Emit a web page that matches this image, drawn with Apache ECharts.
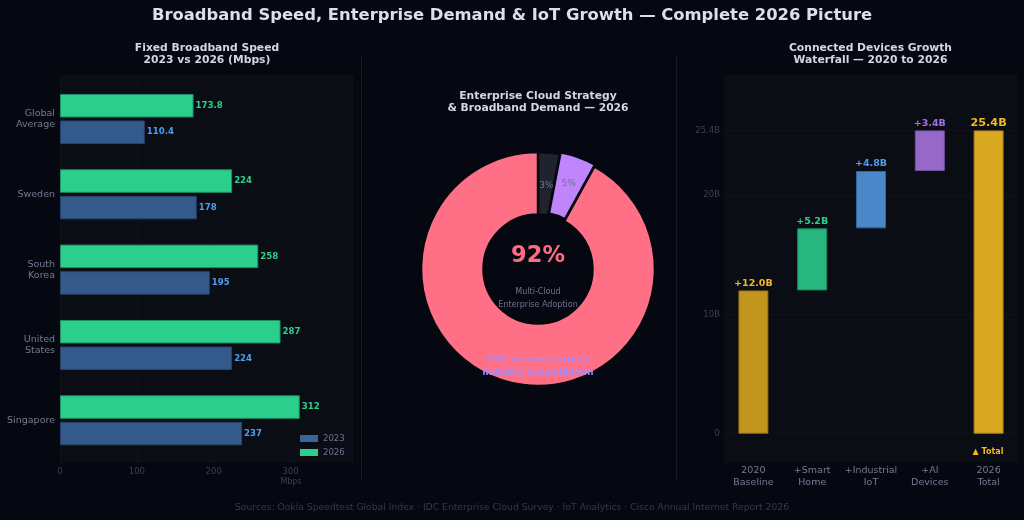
<!DOCTYPE html>
<html lang="en">
<head>
    <meta charset="UTF-8">
    <script src="https://cdn.jsdelivr.net/npm/echarts@6/dist/echarts.min.js"></script>
    <style>
        html, body { margin: 0; background: #050810; }
        #main { width: 1024px; height: 520px; }
    </style>
</head>
<body>
<div id="main"></div>
<script>
    // bottom to top, the category axis runs upwards
    const countries = ['Singapore', 'United\nStates', 'South\nKorea', 'Sweden', 'Global\nAverage'];
    const speed2023 = [237, 224, 195, 178, 110.4];
    const speed2026 = [312, 287, 258, 224, 173.8];

    const cloudNames = ['No cloud', 'Single cloud', 'Multi-cloud'];
    const cloudShares = [3, 5, 92];

    const stepNames = ['2020\nBaseline', '+Smart\nHome', '+Industrial\nIoT', '+AI\nDevices', '2026\nTotal'];
    const stepBase = [0, 12, 17.2, 22, 0];
    const stepSize = [12, 5.2, 4.8, 3.4, 25.4];
    const stepLabels = ['+12.0B', '+5.2B', '+4.8B', '+3.4B', '25.4B'];
    const deviceTicks = [0, 10, 20, 25.4];

    const font = 'DejaVu Sans';
    const stepFill = ['#c2951e', '#27b67d', '#4a86c8', '#9668c8', '#dba822'];
    const stepEdge = ['#8f6f18', '#1c8a5e', '#35639a', '#7450a0', '#a67f1a'];
    const stepText = ['#f5b81f', '#2bd08c', '#4f9cf0', '#a56ee8', '#f5b81f'];

    function heading(text, x, y, size, color, weight, lineHeight) {
        return {
            text: text, left: x, top: y, textAlign: 'center', padding: 0,
            textStyle: {
                fontFamily: font, fontSize: size, color: color,
                fontWeight: weight || 'bold', lineHeight: lineHeight || size * 1.2
            }
        };
    }

    function speedSeries(name, values, fill, edge, text) {
        return {
            name: name, type: 'bar', xAxisIndex: 1, yAxisIndex: 1,
            data: values, barWidth: 23.5, barGap: '13%',
            itemStyle: { color: fill, borderColor: edge, borderWidth: 1 },
            label: {
                show: true, position: 'right', distance: 2, color: text,
                fontFamily: font, fontSize: 8.6, fontWeight: 'bold'
            }
        };
    }

    let chart = echarts.init(document.getElementById('main'));
    chart.setOption({
        animation: false,
        backgroundColor: '#050810',
        title: [
            heading('Broadband Speed, Enterprise Demand & IoT Growth — Complete 2026 Picture', 512, 6, 16.4, '#dcdfec'),
            heading('Fixed Broadband Speed\n2023 vs 2026 (Mbps)', 207, 42.5, 10.75, '#d4d7e3', 'bold', 12),
            heading('Enterprise Cloud Strategy\n& Broadband Demand — 2026', 538, 90.5, 10.75, '#d4d7e3', 'bold', 12),
            heading('Connected Devices Growth\nWaterfall — 2020 to 2026', 870.5, 42.5, 10.75, '#d4d7e3', 'bold', 12),
            heading('92%', 538, 243, 22.5, '#ff6b81'),
            heading('Multi-Cloud\nEnterprise Adoption', 538, 286, 8, '#6f7390', 'normal', 12.4),
            heading('93% of execs expect\nindustry consolidation', 538, 354, 8.8, '#a78bfa', 'bold', 12.4),
            heading('Sources: Ookla Speedtest Global Index · IDC Enterprise Cloud Survey · IoT Analytics · Cisco Annual Internet Report 2026', 512, 502, 9.23, '#363a46', 'normal')
        ],
        legend: {
            data: [
                { name: '2023', itemStyle: { color: '#3a659c', borderWidth: 0 } },
                { name: '2026', itemStyle: { color: '#2bcf8b', borderWidth: 0 } }
            ],
            orient: 'vertical', left: 300, top: 434, padding: 0,
            icon: 'rect', itemWidth: 18, itemHeight: 7, itemGap: 5, selectedMode: false,
            textStyle: { fontFamily: font, fontSize: 8.5, color: '#6f7390' }
        },
        grid: [
            // panel with the speed gridlines, bars sit on the inner grid
            { left: 60, top: 75, width: 292, height: 388, show: true, backgroundColor: '#0a0d14', borderWidth: 0 },
            { left: 60, top: 81.3, width: 292, height: 376.7 },
            { left: 724, top: 75, width: 294, height: 388, show: true, backgroundColor: '#0a0d14', borderWidth: 0 }
        ],
        xAxis: [
            {
                type: 'value', gridIndex: 0, min: 0, max: 380, interval: 100,
                axisLine: { show: false }, axisTick: { show: false },
                axisLabel: { color: '#3c404e', fontFamily: font, fontSize: 8.5, margin: 4, showMaxLabel: false },
                splitLine: { lineStyle: { color: '#0f1219', width: 1 } }
            },
            { type: 'value', gridIndex: 1, min: 0, max: 380, show: false },
            {
                type: 'category', gridIndex: 2, data: stepNames,
                axisLine: { show: false }, axisTick: { show: false },
                axisLabel: { color: '#767b92', fontFamily: font, fontSize: 9.5, lineHeight: 12.4, margin: 1, interval: 0 }
            }
        ],
        yAxis: [
            { type: 'value', gridIndex: 0, min: 0, max: 1, show: false },
            {
                type: 'category', gridIndex: 1, data: countries,
                axisLine: { show: false }, axisTick: { show: false },
                axisLabel: { color: '#767b92', fontFamily: font, fontSize: 9.5, lineHeight: 11, margin: 5, padding: [1, 0, 0, 0] }
            },
            {
                type: 'value', gridIndex: 2, min: -2.45, max: 30.04,
                axisLine: { show: false },
                axisTick: { show: false, customValues: deviceTicks },
                axisLabel: {
                    customValues: deviceTicks, color: '#3c404e', fontFamily: font, fontSize: 8.5, margin: 4,
                    formatter: function (v) { return v === 0 ? '0' : v + 'B'; }
                },
                splitLine: { show: true, lineStyle: { color: '#0f1219', width: 1 } }
            }
        ],
        series: [
            speedSeries('2026', speed2026, '#2bcf8b', '#1f8f66', '#2bd08c'),
            speedSeries('2023', speed2023, '#345a8c', '#27436b', '#4f9cf0'),
            {
                type: 'pie', center: [538, 269], radius: [54.5, 117], startAngle: 90,
                selectedMode: 'multiple', selectedOffset: 2, silent: true,
                itemStyle: { borderColor: '#050810', borderWidth: 2.5 },
                label: { position: 'inside', formatter: '{c}%', color: '#6f7390', fontFamily: font, fontSize: 9 },
                labelLine: { show: false },
                data: [
                    { name: cloudNames[0], value: cloudShares[0], itemStyle: { color: '#20232f' }, label: { offset: [0, 5] } },
                    { name: cloudNames[1], value: cloudShares[1], selected: true, itemStyle: { color: '#c084fc' }, label: { offset: [-2, 7] } },
                    { name: cloudNames[2], value: cloudShares[2], itemStyle: { color: '#ff6f85' }, label: { show: false } }
                ]
            },
            {
                type: 'bar', xAxisIndex: 2, yAxisIndex: 2, stack: 'devices', barWidth: 30,
                data: stepBase, itemStyle: { color: 'transparent' }, silent: true
            },
            {
                type: 'bar', xAxisIndex: 2, yAxisIndex: 2, stack: 'devices', barWidth: 30,
                data: stepSize.map(function (v, i) {
                    return {
                        value: v,
                        itemStyle: { color: stepFill[i], borderColor: stepEdge[i], borderWidth: 1 },
                        label: {
                            color: stepText[i],
                            fontSize: i === 4 ? 11.2 : 9.5
                        }
                    };
                }),
                label: {
                    show: true, position: 'top', distance: 2, fontFamily: font, fontWeight: 'bold',
                    formatter: function (p) { return stepLabels[p.dataIndex]; }
                }
            }
        ],
        graphic: [
            { type: 'rect', silent: true, shape: { x: 361, y: 55, width: 1, height: 425 }, style: { fill: '#161a24' } },
            { type: 'rect', silent: true, shape: { x: 676, y: 55, width: 1, height: 425 }, style: { fill: '#161a24' } },
            {
                type: 'text', silent: true, x: 291, y: 482,
                style: { text: 'Mbps', fill: '#3c404e', font: '8px "DejaVu Sans"', textAlign: 'center', textVerticalAlign: 'middle' }
            },
            {
                type: 'text', silent: true, x: 988, y: 452,
                style: { text: '▲ Total', fill: '#f5b81f', font: 'bold 8px "DejaVu Sans"', textAlign: 'center', textVerticalAlign: 'middle' }
            }
        ]
    });
</script>
</body>
</html>
